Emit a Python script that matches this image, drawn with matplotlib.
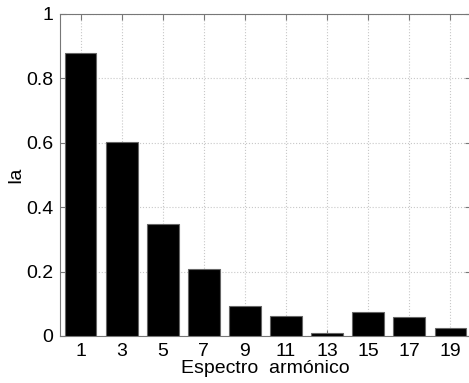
import matplotlib
matplotlib.use("Agg")
import matplotlib.pyplot as plt

harmonics = [1, 3, 5, 7, 9, 11, 13, 15, 17, 19]
amplitudes = [0.880, 0.603, 0.347, 0.208, 0.092, 0.061, 0.009, 0.075, 0.058, 0.025]
y_ticks = [0, 0.2, 0.4, 0.6, 0.8, 1]
y_tick_labels = ["0", "0.2", "0.4", "0.6", "0.8", "1"]

plt.rcParams['font.family'] = ['Liberation Sans', 'DejaVu Sans']

W, H = 469, 383
fig = plt.figure(figsize=(W / 100, H / 100), dpi=100)
left, right, top, bottom = 60, 471, 14, 336
ax = fig.add_axes([left / W, 1 - bottom / H, (right - left) / W, (bottom - top) / H])

ax.bar(harmonics, amplitudes, width=1.55, color='black', edgecolor='#666666',
       linewidth=0.8, zorder=3)

ax.set_xlim(0, 20)
ax.set_ylim(0, 1)
ax.set_xticks(harmonics)
ax.set_xticklabels([str(h) for h in harmonics])
ax.set_yticks(y_ticks)
ax.set_yticklabels(y_tick_labels)

ax.grid(True, linestyle=':', color='#c8c8c8', linewidth=0.8, zorder=0)
for s in ax.spines.values():
    s.set_color('#777777')
    s.set_linewidth(0.8)
ax.tick_params(direction='in', length=4, width=0.8, color='#777777',
               labelsize=14, top=True, right=True, pad=5)

ax.set_xlabel('Espectro  armónico', fontsize=14, labelpad=0)
ax.set_ylabel('Ia', fontsize=14, labelpad=1)

fig.savefig('out.png', dpi=100)
